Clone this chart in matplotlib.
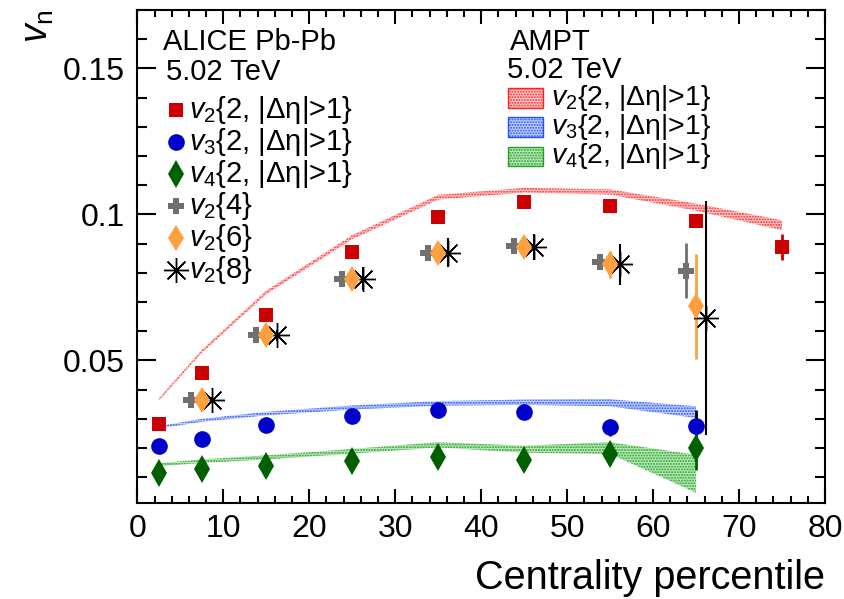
import numpy as np
import matplotlib
matplotlib.use('Agg')
import matplotlib.pyplot as plt
from matplotlib.ticker import MultipleLocator, FixedLocator

plt.rcParams['font.family'] = ['Liberation Sans', 'DejaVu Sans']
plt.rcParams['mathtext.fontset'] = 'custom'
plt.rcParams['mathtext.rm'] = 'Liberation Sans'
plt.rcParams['mathtext.it'] = 'Liberation Sans:italic'
plt.rcParams['hatch.linewidth'] = 1.0

# ALICE data
cent = [2.5, 7.5, 15, 25, 35, 45, 55, 65]
v22 = [0.0283, 0.0456, 0.0657, 0.0871, 0.0991, 0.1043, 0.1029, 0.0976]
v22_err = [0.0005, 0.0005, 0.0005, 0.0005, 0.0005, 0.0005, 0.0005, 0.0008]
cent_v22_last = [75]
v22_last = [0.0888]
v22_last_err = [0.0045]
v32 = [0.0206, 0.0231, 0.0279, 0.0309, 0.0331, 0.0323, 0.0271, 0.0277]
v32_err = [0.0005, 0.0005, 0.0005, 0.0005, 0.0005, 0.0006, 0.003, 0.0055]
v42 = [0.0115, 0.0129, 0.0137, 0.0157, 0.0171, 0.0160, 0.0181, 0.0199]
v42_err = [0.0005, 0.0005, 0.0005, 0.0006, 0.0007, 0.0009, 0.004, 0.0075]

cent_multi = [7.5, 15, 25, 35, 45, 55, 65]
v24 = [0.0365, 0.0586, 0.0780, 0.0869, 0.0892, 0.0837, 0.0808]
v24_err = [0.0005, 0.0005, 0.0005, 0.0006, 0.0008, 0.0012, 0.0095]
v26 = [0.0365, 0.0586, 0.0780, 0.0869, 0.0888, 0.0829, 0.0685]
v26_err = [0.0005, 0.0006, 0.0008, 0.001, 0.0015, 0.0045, 0.018]
v28 = [0.0365, 0.0586, 0.0780, 0.0869, 0.0888, 0.0829, 0.0646]
v28_err = [0.001, 0.002, 0.004, 0.005, 0.0045, 0.007, 0.04]

# AMPT bands
ampt_cent2 = [2.5, 7.5, 15, 25, 35, 45, 55, 65, 75]
ampt_v2 = [0.0366, 0.0531, 0.0733, 0.0922, 0.1059, 0.1083, 0.1077, 0.1025, 0.0963]
ampt_v2_err = [0.0004, 0.0005, 0.0006, 0.0007, 0.0008, 0.0008, 0.0009, 0.0012, 0.0017]
ampt_cent = [2.5, 7.5, 15, 25, 35, 45, 55, 65]
ampt_v3 = [0.0271, 0.0295, 0.0318, 0.0339, 0.0353, 0.0357, 0.0355, 0.0323]
ampt_v3_err = [0.0004, 0.0005, 0.0006, 0.0007, 0.0008, 0.0009, 0.0012, 0.002]
ampt_v4 = [0.0143, 0.0155, 0.0168, 0.0189, 0.0211, 0.0196, 0.0200, 0.0112]
ampt_v4_err = [0.0005, 0.0006, 0.0007, 0.0008, 0.0009, 0.0012, 0.002, 0.0065]

STAR = (8, 2, 0)

fig = plt.figure(figsize=(8.44, 5.99), dpi=100)
ax = fig.add_axes([0.1627, 0.1603, 0.8148, 0.823])

# bands
band_style = dict(hatch='......', linewidth=0)
ax.fill_between(ampt_cent2, np.array(ampt_v2) - ampt_v2_err, np.array(ampt_v2) + ampt_v2_err,
                facecolor='#ffd0d0', edgecolor='#ff2020', **band_style)
ax.fill_between(ampt_cent, np.array(ampt_v3) - ampt_v3_err, np.array(ampt_v3) + ampt_v3_err,
                facecolor='#c8d4ff', edgecolor='#2050ff', **band_style)
ax.fill_between(ampt_cent, np.array(ampt_v4) - ampt_v4_err, np.array(ampt_v4) + ampt_v4_err,
                facecolor='#c0eac0', edgecolor='#20a020', **band_style)

# points
cx = np.array(cent_multi)
ax.errorbar(cx - 1.2, v24, yerr=v24_err, fmt='P', color='#707070', ms=11, mew=0, elinewidth=2)
ax.errorbar(cx, v26, yerr=v26_err, fmt='d', color='#ffa040', ms=13.5, mew=0, elinewidth=2)
ax.errorbar(cx + 1.2, v28, yerr=v28_err, fmt='none', ecolor='black', elinewidth=1.5)
ax.plot(cx + 1.2, v28, ls='none', marker=STAR, color='black', ms=18, mew=1.0)
ax.errorbar(cent, v22, yerr=v22_err, fmt='s', color='#cc0000', ms=10, mew=0, elinewidth=2)
ax.errorbar(cent_v22_last, v22_last, yerr=v22_last_err, fmt='s', color='#cc0000', ms=10, mew=0, elinewidth=2)
ax.errorbar(cent, v32, yerr=v32_err, fmt='o', color='#0000cc', ms=12, mew=0, elinewidth=2, ecolor='black')
ax.errorbar(cent, v42, yerr=v42_err, fmt='d', color='#006000', ms=14, mew=0, elinewidth=2)

ax.set_xlim(0, 80)
ax.set_ylim(0.0012, 0.17)
ax.xaxis.set_major_locator(MultipleLocator(10))
ax.xaxis.set_minor_locator(MultipleLocator(2))
ax.yaxis.set_major_locator(FixedLocator([0.05, 0.1, 0.15]))
ax.yaxis.set_minor_locator(MultipleLocator(0.01))
ax.set_yticklabels(['0.05', '0.1', '0.15'])
ax.tick_params(which='both', direction='in', top=True, right=True, labelsize=23, width=1.5)
ax.tick_params(axis='y', which='major', length=14, pad=9)
ax.tick_params(axis='y', which='minor', length=7)
ax.tick_params(axis='x', which='major', length=10, pad=8)
ax.tick_params(axis='x', which='minor', length=5)
for s in ax.spines.values():
    s.set_linewidth(1.5)

ax.set_xlabel('Centrality percentile', fontsize=28.5, loc='right', labelpad=11)
fig.text(0.045, 0.985, r'$v_{\mathrm{n}}$', fontsize=27, rotation=90, ha='center', va='top')

# ALICE legend
ax.text(0.037, 0.935, 'ALICE Pb-Pb', transform=ax.transAxes, fontsize=21, va='center')
ax.text(0.041, 0.875, '5.02 TeV', transform=ax.transAxes, fontsize=21, va='center')
leg_rows = [
    ('s', '#cc0000', 10, r'$v_{2}${2, |Δη|>1}'),
    ('o', '#0000cc', 12, r'$v_{3}${2, |Δη|>1}'),
    ('d', '#006000', 14, r'$v_{4}${2, |Δη|>1}'),
    ('P', '#707070', 11, r'$v_{2}${4}'),
    ('d', '#ffa040', 13.5, r'$v_{2}${6}'),
    (STAR, 'black', 18, r'$v_{2}${8}'),
]
for i, (m, c, ms, lab) in enumerate(leg_rows):
    yy = 0.798 - i * 0.065
    ax.plot([0.056], [yy], marker=m, color=c, ms=ms, mew=1.0 if m == STAR else 0,
            transform=ax.transAxes, clip_on=False)
    ax.text(0.075, yy, lab, transform=ax.transAxes, fontsize=21, va='center')

# AMPT legend
ax.text(0.542, 0.935, 'AMPT', transform=ax.transAxes, fontsize=21, va='center')
ax.text(0.538, 0.878, '5.02 TeV', transform=ax.transAxes, fontsize=21, va='center')
ampt_rows = [
    ('#ffd0d0', '#ff2020', r'$v_{2}${2, |Δη|>1}'),
    ('#c8d4ff', '#2050ff', r'$v_{3}${2, |Δη|>1}'),
    ('#c0eac0', '#20a020', r'$v_{4}${2, |Δη|>1}'),
]
for i, (fc, ec, lab) in enumerate(ampt_rows):
    yy = 0.822 - i * 0.0595
    ax.add_patch(plt.Rectangle((0.539, yy - 0.02), 0.051, 0.04, transform=ax.transAxes,
                               facecolor=fc, edgecolor=ec, hatch='......', linewidth=1))
    ax.text(0.602, yy, lab, transform=ax.transAxes, fontsize=20.5, va='center')

fig.savefig('out.png', dpi=100)
